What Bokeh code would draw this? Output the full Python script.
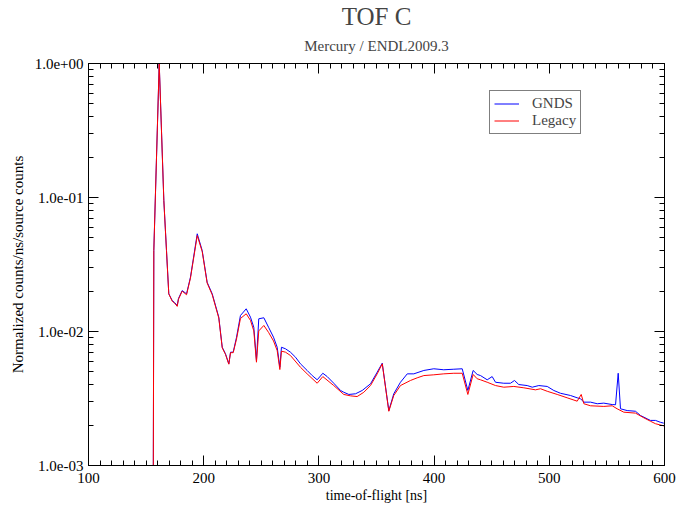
from bokeh.plotting import figure
from bokeh.models import (FixedTicker, CustomJSTickFormatter, LinearAxis, LogAxis,
                          Title, Legend, LegendItem, Range1d)
from bokeh.embed import file_html
from bokeh.resources import INLINE

# ---- data (time-of-flight in ns, normalized counts) ----
gnds_t = [156.0, 156.7, 161.4, 165.4, 167.7, 169.7, 172.7, 174.7, 177.0, 178.1,
          181.3, 185.1, 188.5, 194.4, 198.7, 203.0, 207.4, 213.1, 216.1, 218.9,
          221.8, 223.3, 225.6, 228.5, 231.9, 236.9, 240.6, 243.5, 245.8, 247.8,
          252.2, 256.3, 260.6, 263.8, 266.1, 267.5, 271.0, 275.3, 279.7, 284.0,
          289.8, 294.2, 298.5, 303.4, 307.2, 312.9, 318.8, 321.6, 326.0, 331.8,
          337.6, 344.8, 350.6, 355.0, 360.7, 365.0, 370.8, 376.7, 382.4, 391.1,
          399.7, 408.4, 417.1, 424.4, 429.3, 433.9, 437.4, 440.3, 446.1, 450.4,
          453.3, 460.5, 466.3, 469.8, 473.5, 480.8, 485.2, 490.9, 498.2, 503.9,
          509.7, 518.4, 524.2, 527.1, 530.0, 535.8, 541.6, 547.3, 554.6, 557.5,
          559.8, 561.8, 567.6, 574.8, 579.2, 585.0, 587.8, 592.2, 596.5, 599.4]
gnds_y = [1e-4, 0.0402, 1.0, 0.0950, 0.0402, 0.0191, 0.0170, 0.01646, 0.01563, 0.01763,
          0.0202, 0.0191, 0.0254, 0.0536, 0.0402, 0.0233, 0.0191, 0.01279, 0.00763, 0.00682,
          0.00574, 0.00701, 0.00701, 0.00907, 0.01316, 0.01477, 0.01279, 0.01076, 0.00608, 0.01244,
          0.01266, 0.01076, 0.00907, 0.00763, 0.00541, 0.00763, 0.00743, 0.00701, 0.00643, 0.00574,
          0.00512, 0.00469, 0.00436, 0.00488, 0.00461, 0.00411, 0.00363, 0.00352, 0.00339, 0.00343,
          0.00363, 0.00407, 0.00497, 0.00580, 0.00257, 0.00343, 0.00418, 0.00483, 0.00483, 0.00512,
          0.00527, 0.00518, 0.00523, 0.00527, 0.00363, 0.00512, 0.00478, 0.00469, 0.00436, 0.00461,
          0.00418, 0.00411, 0.00411, 0.00431, 0.00402, 0.00395, 0.00384, 0.00395, 0.00389, 0.00363,
          0.00346, 0.00333, 0.00320, 0.00315, 0.00297, 0.00297, 0.00289, 0.00292, 0.00285, 0.00284,
          0.00488, 0.00265, 0.00257, 0.00254, 0.00236, 0.00223, 0.00217, 0.00217, 0.00210, 0.00207]

legacy_t = [156.0, 156.7, 161.4, 165.4, 167.7, 169.7, 172.7, 174.7, 177.0, 178.1,
            181.3, 185.1, 188.5, 194.4, 198.7, 203.0, 207.4, 213.1, 216.1, 218.9,
            221.8, 223.3, 225.6, 228.5, 231.9, 236.9, 240.6, 243.5, 245.8, 247.8,
            252.2, 256.3, 260.6, 263.8, 266.1, 267.5, 271.0, 275.3, 284.0, 289.8,
            298.5, 303.4, 312.9, 321.6, 327.4, 333.2, 339.0, 344.8, 350.6, 355.0,
            360.7, 365.0, 370.8, 379.5, 385.3, 391.1, 399.7, 408.4, 417.1, 424.4,
            429.3, 433.9, 437.4, 440.3, 446.1, 453.3, 460.5, 469.2, 477.9, 488.0,
            492.4, 498.2, 506.9, 515.5, 524.2, 527.7, 530.0, 535.8, 547.3, 554.6,
            558.9, 564.7, 574.8, 582.0, 587.8, 592.2, 598.0, 599.9]
legacy_y = [1e-4, 0.0402, 1.0, 0.0950, 0.0402, 0.0191, 0.0168, 0.01630, 0.01540, 0.01740,
            0.0200, 0.0188, 0.0250, 0.0520, 0.0395, 0.0230, 0.0188, 0.01260, 0.00755, 0.00675,
            0.00570, 0.00695, 0.00695, 0.00880, 0.01250, 0.01356, 0.0121, 0.0101, 0.00590, 0.0101,
            0.01109, 0.00985, 0.00850, 0.00720, 0.00520, 0.00713, 0.00701, 0.00662, 0.00541, 0.00483,
            0.00411, 0.00461, 0.00395, 0.00339, 0.00331, 0.00327, 0.00352, 0.00395, 0.00483, 0.00574,
            0.00254, 0.00333, 0.00395, 0.00431, 0.00451, 0.00469, 0.00475, 0.00483, 0.00488, 0.00488,
            0.00339, 0.00478, 0.00444, 0.00436, 0.00418, 0.00395, 0.00384, 0.00389, 0.00380, 0.00367,
            0.00374, 0.00358, 0.00339, 0.00320, 0.00302, 0.00339, 0.00289, 0.00279, 0.00276, 0.00279,
            0.00265, 0.00250, 0.00246, 0.00227, 0.00214, 0.00205, 0.00199, 0.00197]

x_major = [100, 200, 300, 400, 500, 600]
x_minor = [v for v in range(110, 600, 10) if v % 100 != 0]
y_major = [1e-3, 1e-2, 1e-1, 1.0]
y_minor = [k * 10.0 ** e for e in (-3, -2, -1) for k in range(2, 10)]

FONT = "Liberation Serif"

p = figure(width=677, height=505,
           x_range=Range1d(100, 600), y_range=Range1d(1e-3, 1.0),
           y_axis_type="log", output_backend="svg", toolbar_location=None,
           min_border_left=88, min_border_right=13, min_border_top=5, min_border_bottom=40,
           background_fill_color="white", border_fill_color="white")
p.grid.visible = False
p.outline_line_color = "black"

fmt = CustomJSTickFormatter(code="""
const s = tick.toExponential(1);
const parts = s.split('e');
let sign = parts[1][0];
let d = parts[1].slice(1);
if (d.length < 2) { d = '0' + d; }
return parts[0] + 'e' + sign + d;
""")
blank = CustomJSTickFormatter(code="return '';")

def style_axis(ax, labels=True):
    ax.axis_line_color = "black"
    ax.axis_line_width = 1
    ax.major_tick_in = 10
    ax.major_tick_out = 0
    ax.minor_tick_in = 5
    ax.minor_tick_out = 0
    ax.major_tick_line_color = "black"
    ax.minor_tick_line_color = "black"
    ax.major_label_text_font = FONT
    ax.axis_label_text_font = FONT
    ax.axis_label_text_font_style = "normal"
    ax.axis_label_text_color = "black"
    ax.major_label_text_color = "black"
    ax.major_label_text_font_size = "15px"
    ax.axis_label_text_font_size = "14px"
    if not labels:
        ax.formatter = blank
        ax.major_label_standoff = 0

xa = p.xaxis[0]
xa.ticker = FixedTicker(ticks=x_major, minor_ticks=x_minor)
xa.axis_label = "time-of-flight [ns]"
style_axis(xa)
xa.major_label_standoff = 7
xa.axis_label_standoff = 2

ya = p.yaxis[0]
ya.ticker = FixedTicker(ticks=y_major, minor_ticks=y_minor)
ya.formatter = fmt
ya.axis_label = "Normalized counts/ns/source counts"
style_axis(ya)
ya.axis_label_text_font_size = "15px"
ya.major_label_standoff = 5
ya.axis_label_standoff = 6

top = LinearAxis(ticker=FixedTicker(ticks=x_major, minor_ticks=x_minor))
style_axis(top, labels=False)
p.add_layout(top, "above")

right = LogAxis(ticker=FixedTicker(ticks=y_major, minor_ticks=y_minor))
style_axis(right, labels=False)
p.add_layout(right, "right")

p.add_layout(Title(text="Mercury / ENDL2009.3", text_font=FONT, text_font_size="15px",
                   text_font_style="normal", align="center", vertical_align="top",
                   standoff=16), "above")
p.add_layout(Title(text="TOF C", text_font=FONT, text_font_size="25px",
                   text_font_style="normal", align="center", standoff=0), "above")

rb = p.line(gnds_t, gnds_y, line_color="#0000ff", line_width=1)
rr = p.line(legacy_t, legacy_y, line_color="#ff0000", line_width=1)

legend = Legend(items=[LegendItem(label="GNDS", renderers=[rb]),
                       LegendItem(label="Legacy", renderers=[rr])],
                location=(401, 331), orientation="vertical",
                border_line_color="black", border_line_width=1,
                background_fill_color="white", background_fill_alpha=1.0,
                label_text_font=FONT, label_text_font_size="15px",
                glyph_width=25, glyph_height=17, label_height=17,
                label_standoff=13, spacing=0, padding=4, margin=0)
p.add_layout(legend)

open("out.html", "w").write(file_html(p, INLINE))
